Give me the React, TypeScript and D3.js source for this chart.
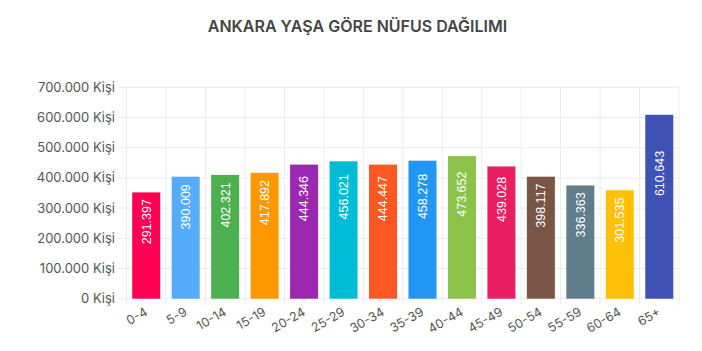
import React, { useEffect, useRef } from 'react';
import * as d3 from 'd3';

const title = 'ANKARA YAŞA GÖRE NÜFUS DAĞILIMI';
const ageGroups = ['0-4', '5-9', '10-14', '15-19', '20-24', '25-29', '30-34', '35-39', '40-44', '45-49', '50-54', '55-59', '60-64', '65+'];
// bar heights as drawn in the picture
const barValues = [352000, 404000, 410000, 417000, 444000, 455000, 444000, 457000, 472000, 438000, 404000, 375000, 359000, 609000];
// values printed on the bars
const labelValues = [291397, 390009, 402321, 417892, 444346, 456021, 444447, 458278, 473652, 439028, 398117, 336363, 301535, 610643];
const barColors = ['#ff0055', '#56acfb', '#4caf50', '#ff9800', '#9c27b0', '#00bcd4', '#ff5722', '#2196f3', '#8bc34a', '#e91e63', '#795548', '#607d8b', '#ffc107', '#3f51b5'];
const yTicks = [0, 100000, 200000, 300000, 400000, 500000, 600000, 700000];

const fmt = (v: number) => d3.format(',')(v).replace(/,/g, '.');

export default function App() {
  const svgRef = useRef<SVGSVGElement>(null);

  useEffect(() => {
    if (!svgRef.current) return;
    const width = 702;
    const height = 351;
    const font = "Inter, Roboto, sans-serif";
    const labelFont = "'Liberation Sans', Arial, sans-serif";

    const svg = d3.select(svgRef.current).attr('width', width).attr('height', height);
    svg.selectAll('*').remove();

    const x = d3.scaleBand<string>()
      .domain(ageGroups)
      .range([126.5, 679])
      .paddingInner(0.29)
      .paddingOuter(0.145);

    const y = d3.scaleLinear().domain([0, 700000]).range([298.7, 87.3]);

    const step = x.step();
    const gridColor = '#ececec';

    // horizontal grid
    svg.append('g')
      .selectAll('line')
      .data(yTicks)
      .join('line')
      .attr('x1', 118)
      .attr('x2', 679)
      .attr('y1', d => y(d))
      .attr('y2', d => y(d))
      .attr('stroke', gridColor)
      .attr('stroke-width', 1);

    // vertical grid at band boundaries
    const bounds = ageGroups.map(c => (x(c) as number) - (step - x.bandwidth()) / 2);
    bounds.push(679);
    svg.append('g')
      .selectAll('line')
      .data(bounds)
      .join('line')
      .attr('x1', d => d)
      .attr('x2', d => d)
      .attr('y1', y(700000))
      .attr('y2', y(0) + 7)
      .attr('stroke', gridColor)
      .attr('stroke-width', 1);

    // y labels
    svg.append('g')
      .selectAll('text')
      .data(yTicks)
      .join('text')
      .attr('x', 115)
      .attr('y', d => y(d))
      .attr('dy', '0.35em')
      .attr('text-anchor', 'end')
      .style('font-family', font)
      .style('font-size', '13px')
      .style('fill', '#555')
      .text(d => `${fmt(d)} Kişi`);

    // bars
    svg.append('g')
      .selectAll('rect')
      .data(ageGroups)
      .join('rect')
      .attr('x', d => x(d) as number)
      .attr('width', x.bandwidth())
      .attr('y', (d, i) => y(barValues[i]))
      .attr('height', (d, i) => y(0) - y(barValues[i]))
      .attr('fill', (d, i) => barColors[i]);

    // value labels on bars
    svg.append('g')
      .selectAll('text')
      .data(ageGroups)
      .join('text')
      .attr('transform', (d, i) => {
        const cx = (x(d) as number) + x.bandwidth() / 2;
        const cy = y(labelValues[i] / 2) - 33;
        return `translate(${cx},${cy}) rotate(-90)`;
      })
      .attr('text-anchor', 'middle')
      .attr('dy', '0.35em')
      .style('font-family', labelFont)
      .style('font-size', '12.5px')
      .style('fill', '#fff')
      .text((d, i) => fmt(labelValues[i]));

    // x labels
    svg.append('g')
      .selectAll('text')
      .data(ageGroups)
      .join('text')
      .attr('transform', d => `translate(${(x(d) as number) + x.bandwidth() / 2},${y(0) + 12}) rotate(-30)`)
      .attr('text-anchor', 'end')
      .attr('dy', '0.35em')
      .style('font-family', font)
      .style('font-size', '12.5px')
      .style('fill', '#555')
      .text(d => d);

    // title
    svg.append('text')
      .attr('x', 357.5)
      .attr('y', 26)
      .attr('dy', '0.35em')
      .attr('text-anchor', 'middle')
      .style('font-family', font)
      .style('font-size', '16px')
      .style('font-weight', '600')
      .style('fill', '#444')
      .text(title);
  }, []);

  return (
    <div style={{ position: 'absolute', left: 0, top: 0, width: 702, height: 351, background: '#fff' }}>
      <svg ref={svgRef}></svg>
    </div>
  );
}
